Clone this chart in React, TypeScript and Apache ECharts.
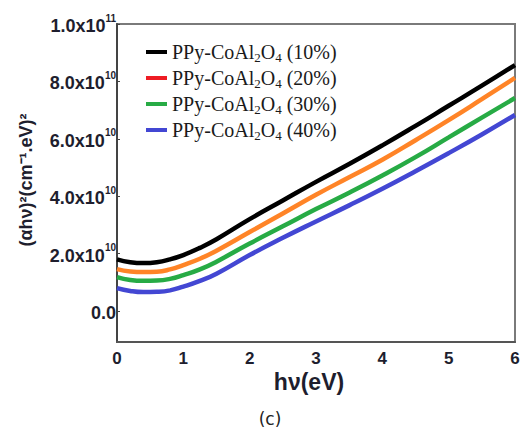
import React, { useEffect, useRef } from "react";
import * as echarts from "echarts";

const xValues = [0, 0.2, 0.4, 0.6, 0.8, 1.0, 1.25, 1.5, 2, 2.5, 3, 3.5, 4, 4.5, 5, 5.5, 6];
// values in units of 1e10
const s10 = [1.80, 1.70, 1.67, 1.70, 1.80, 1.95, 2.20, 2.50, 3.20, 3.85, 4.50, 5.12, 5.77, 6.45, 7.15, 7.85, 8.57];
const s20 = [1.46, 1.38, 1.36, 1.37, 1.45, 1.60, 1.82, 2.10, 2.75, 3.40, 4.05, 4.66, 5.27, 5.95, 6.65, 7.38, 8.12];
const s30 = [1.18, 1.08, 1.05, 1.06, 1.12, 1.25, 1.45, 1.72, 2.35, 2.95, 3.55, 4.12, 4.72, 5.36, 6.05, 6.74, 7.42];
const s40 = [0.80, 0.70, 0.66, 0.67, 0.72, 0.85, 1.05, 1.30, 1.95, 2.55, 3.12, 3.68, 4.26, 4.87, 5.50, 6.15, 6.83];

const seriesNames = ["PPy-CoAl2O4 (10%)", "PPy-CoAl2O4 (20%)", "PPy-CoAl2O4 (30%)", "PPy-CoAl2O4 (40%)"];
const seriesPct = ["(10%)", "(20%)", "(30%)", "(40%)"];
const lineColors = ["#000000", "#ff8427", "#27ab45", "#4347d3"];
const legendColors = ["#000000", "#ee1c24", "#27ab45", "#4347d3"];

const yTickValues = [0, 2, 4, 6, 8, 10];
const yTickMantissa = ["0.0", "2.0", "4.0", "6.0", "8.0", "1.0"];
const yTickExp = ["", "10", "10", "10", "10", "11"];
const xTickValues = [0, 1, 2, 3, 4, 5, 6];

export default function App() {
  const ref = useRef<HTMLDivElement>(null);
  useEffect(() => {
    if (!ref.current) return;
    const chart = echarts.init(ref.current, null, { renderer: "svg" });
    const data = [s10, s20, s30, s40];
    chart.setOption({
      animation: false,
      backgroundColor: "#ffffff",
      grid: {
        left: 117,
        right: 8,
        top: 24,
        bottom: 87,
        show: true,
        borderColor: "#7a7a7a",
        borderWidth: 2,
      },
      legend: {
        orient: "vertical",
        left: 141,
        top: 37,
        itemWidth: 21,
        itemHeight: 4,
        itemGap: 4,
        icon: "rect",
        data: seriesNames.map((n, i) => ({ name: n, itemStyle: { color: legendColors[i] } })),
        formatter: (name: string) => {
          const i = seriesNames.indexOf(name);
          return `{a|PPy-CoAl}{s|2}{a|O}{s|4}{a| ${seriesPct[i]}}`;
        },
        textStyle: {
          rich: {
            a: { fontFamily: "Liberation Serif", fontSize: 20, lineHeight: 20, verticalAlign: "top", color: "#1a1a1a" },
            s: { fontFamily: "Liberation Serif", fontSize: 13, lineHeight: 13, padding: [9, 0, 0, 0], verticalAlign: "top", color: "#1a1a1a" },
          },
        },
      },
      xAxis: {
        type: "value",
        min: 0,
        max: 6,
        interval: 1,
        axisLine: { show: true, onZero: false, lineStyle: { color: "#555", width: 2 } },
        axisTick: { show: false },
        splitLine: { show: false },
        axisLabel: {
          customValues: xTickValues,
          margin: 8,
          fontFamily: "Liberation Sans",
          fontWeight: "bold",
          fontSize: 17,
          color: "#1e1e2e",
        },
      },
      yAxis: {
        type: "value",
        min: -1.08,
        max: 10,
        axisLine: { show: true, onZero: false, lineStyle: { color: "#444", width: 2 } },
        axisTick: { show: true, inside: true, length: 3, customValues: yTickValues, lineStyle: { color: "#444" } },
        splitLine: { show: false },
        axisLabel: {
          customValues: yTickValues,
          margin: 1,
          formatter: (v: number) => {
            const i = yTickValues.indexOf(Math.round(v));
            if (i < 0) return "";
            return yTickExp[i] ? `{b|${yTickMantissa[i]}x10}{s|${yTickExp[i]}}` : `{b|${yTickMantissa[i]}}`;
          },
          rich: {
            b: { fontFamily: "Liberation Sans", fontWeight: "bold", fontSize: 18, lineHeight: 22, verticalAlign: "bottom", color: "#1e1e2e" },
            s: { fontFamily: "Liberation Sans", fontWeight: "bold", fontSize: 10, lineHeight: 10, verticalAlign: "top", color: "#1e1e2e" },
          },
        },
      },
      series: data.map((d, i) => ({
        name: seriesNames[i],
        type: "line",
        smooth: true,
        symbol: "none",
        lineStyle: { color: lineColors[i], width: 4.5 },
        itemStyle: { color: lineColors[i] },
        data: xValues.map((x, j) => [x, d[j]]),
        z: 10 - i,
      })),
      graphic: [
        {
          type: "text",
          x: 26,
          y: 180,
          rotation: Math.PI / 2,
          style: {
            text: "(αhν)²(cm⁻¹.eV)²",
            fontFamily: "Liberation Sans",
            fontWeight: "bold",
            fontSize: 18,
            fill: "#1e1e2e",
            align: "center",
            verticalAlign: "middle",
          },
        },
        {
          type: "text",
          x: 309,
          y: 382,
          style: {
            text: "hν(eV)",
            fontFamily: "Liberation Sans",
            fontWeight: "bold",
            fontSize: 23,
            fill: "#1e1e2e",
            align: "center",
            verticalAlign: "middle",
          },
        },
        {
          type: "text",
          x: 270,
          y: 419,
          style: {
            text: "(c)",
            fontFamily: "DejaVu Sans",
            fontSize: 17,
            fill: "#222",
            align: "center",
            verticalAlign: "middle",
          },
        },
      ],
    });
    return () => chart.dispose();
  }, []);
  return <div ref={ref} style={{ width: 523, height: 429, position: "absolute", left: 0, top: 0 }} />;
}
